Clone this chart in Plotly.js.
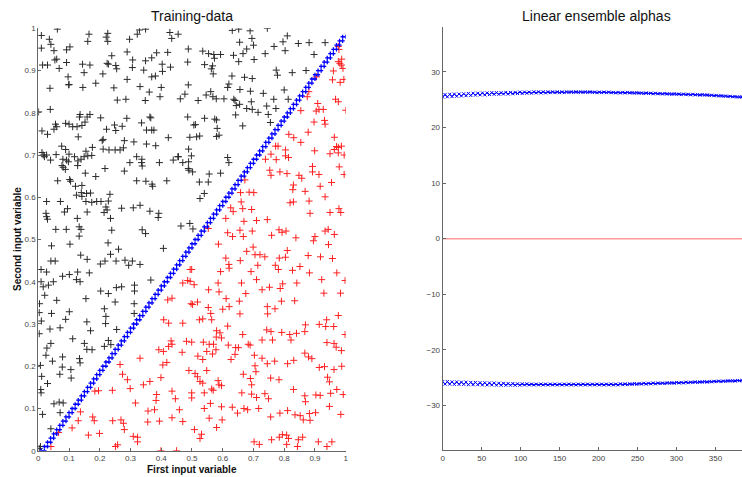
<!DOCTYPE html>
<html>
<head>
<meta charset="utf-8">
<script src="https://cdn.plot.ly/plotly-3.0.1.min.js"></script>
<style>html,body{margin:0;padding:0;background:#fff;}#chart{width:742px;height:477px;}</style>
</head>
<body>
<div id="chart"></div>
<script>
// ---- Training data: class "above" (black) ----
const blackPts = [
[.01,.983],[.062,.998],[.036,.974],[.165,.986],[.226,.988],[.221,.979],[.226,.969],[.161,.969],[.297,.974],[.322,.986],[.349,.998],[.329,.996],[.428,.99],[.455,.986],[.434,.976],[.631,.995],[.652,.998],[.689,.994],[.745,1.0],[.695,.976],[.655,.967],[.70,.96],[.81,.982],[.796,.968],[.767,.957],[.803,.947],[.846,.964],[.881,.966],[.933,.966],
[.01,.953],[.051,.947],[.041,.962],[.092,.949],[.103,.956],[.06,.927],[.054,.925],[.068,.905],[.014,.913],[.03,.913],[.092,.919],[.097,.885],[.1,.867],[.144,.915],[.168,.913],[.149,.895],[.224,.917],[.228,.915],[.239,.935],[.21,.892],[.255,.904],[.252,.912],[.289,.944],[.307,.925],[.306,.907],[.343,.901],[.349,.923],[.369,.93],[.385,.942],[.403,.915],[.404,.898],[.369,.885],[.381,.887],[.421,.943],[.43,.908],[.488,.951],[.486,.92],[.535,.946],[.554,.94],[.571,.938],[.573,.929],[.541,.914],[.563,.904],[.567,.911],[.569,.892],[.593,.938],[.635,.936],[.666,.94],[.678,.951],[.652,.921],[.63,.887],[.671,.884],[.696,.881],[.702,.926],[.738,.94],[.774,.901],[.778,.889],[.826,.895],[.871,.9],[.897,.938],
[.038,.858],[.099,.866],[.145,.86],[.187,.87],[.246,.859],[.257,.83],[.285,.832],[.289,.879],[.331,.862],[.348,.829],[.361,.849],[.4,.86],[.396,.838],[.462,.833],[.477,.844],[.488,.866],[.52,.829],[.546,.842],[.568,.838],[.561,.85],[.579,.833],[.62,.868],[.616,.86],[.636,.832],[.64,.829],[.656,.855],[.69,.851],[.604,.833],[.693,.826],[.732,.846],[.766,.832],[.8,.854],[.813,.832],[.644,.817],[.655,.82],[.642,.795],[.678,.81],[.696,.808],[.715,.801],[.743,.816],[.773,.81],[.748,.796],
[.001,.802],[.039,.808],[.012,.757],[.03,.749],[.051,.761],[.06,.767],[.056,.773],[.089,.775],[.1,.773],[.112,.767],[.126,.767],[.136,.796],[.134,.79],[.142,.77],[.152,.778],[.159,.79],[.168,.796],[.13,.743],[.203,.788],[.222,.761],[.248,.771],[.252,.758],[.273,.768],[.288,.787],[.28,.734],[.211,.737],[.336,.776],[.363,.79],[.366,.788],[.352,.759],[.369,.759],[.376,.759],[.423,.741],[.486,.79],[.506,.771],[.541,.787],[.525,.745],[.493,.742],[.515,.743],[.574,.785],[.58,.783],[.582,.763],[.588,.747],[.511,.772],[.665,.769],[.755,.777],[.076,.721],[.089,.713],[.1,.702],[.012,.706],[.016,.7],[.027,.7],[.02,.696],[.04,.688],[.058,.701],[.155,.709],[.161,.698],[.176,.718],[.174,.699],[.208,.734],[.211,.714],[.23,.712],[.25,.712],[.277,.717],[.266,.712],[.311,.731],[.352,.726],[.32,.696],[.382,.722],[.456,.696],[.489,.714],[.498,.698],[.47,.682],[.58,.744],[.616,.694],[.62,.682],
[.08,.69],[.092,.688],[.077,.675],[.081,.671],[.088,.666],[.098,.684],[.118,.696],[.129,.686],[.128,.675],[.139,.69],[.149,.696],[.153,.657],[.063,.639],[.102,.642],[.105,.638],[.121,.626],[.124,.605],[.142,.628],[.14,.611],[.142,.602],[.157,.609],[.17,.61],[.187,.649],[.217,.668],[.233,.607],[.28,.662],[.298,.682],[.336,.682],[.338,.674],[.337,.69],[.32,.639],[.35,.638],[.372,.626],[.37,.631],[.394,.682],[.418,.639],[.439,.688],[.454,.696],[.489,.684],[.488,.668],[.49,.664],[.502,.66],[.524,.636],[.54,.609],[.553,.636],[.556,.655],[.593,.657],
[.027,.59],[.025,.562],[.027,.554],[.03,.548],[.057,.524],[.072,.59],[.085,.565],[.095,.573],[.091,.524],[.127,.55],[.133,.53],[.139,.524],[.133,.508],[.155,.59],[.159,.565],[.174,.588],[.19,.59],[.204,.59],[.214,.564],[.22,.577],[.224,.57],[.228,.591],[.235,.55],[.239,.522],[.271,.574],[.309,.575],[.331,.581],[.338,.523],[.349,.514],[.363,.567],[.392,.562],[.39,.552],[.464,.532],[.493,.538],[.503,.525],[.526,.597],
[.043,.485],[.041,.449],[.055,.449],[.103,.489],[.138,.463],[.159,.453],[.202,.442],[.227,.492],[.235,.465],[.261,.477],[.253,.449],[.217,.449],[.282,.451],[.306,.449],[.331,.441],[.294,.439],[.407,.479],[.009,.429],[.027,.423],[.009,.4],[.016,.388],[.033,.392],[.049,.4],[.021,.368],[.079,.413],[.101,.417],[.124,.405],[.136,.4],[.128,.423],[.166,.421],[.203,.378],[.228,.372],[.254,.386],[.271,.388],[.313,.392],[.313,.378],[.366,.404],[.004,.348],[.003,.327],[.01,.307],[.003,.277],[.043,.325],[.06,.356],[.038,.288],[.071,.291],[.089,.311],[.101,.329],[.155,.36],[.158,.305],[.17,.284],[.22,.318],[.219,.301],[.215,.336],[.255,.287],[.25,.352],[.312,.348],[.312,.325],[.112,.265],[.15,.254],[.175,.239],[.158,.24],[.215,.247],[.228,.261],[.236,.251],[.028,.243],[.041,.254],[.025,.226],[.046,.212],[.079,.222],[.078,.198],[.106,.192],[.107,.172],[.134,.218],[.136,.208],[.07,.181],[.007,.202],[.011,.176],[.008,.145],[.009,.137],[.03,.159],[.081,.113],[.068,.115],[.051,.111],[.014,.086],[.071,.09],[.041,.052],[.007,.01],[.003,.005]
];
// ---- Training data: class "below" (red) ----
const redPts = [
[.976,.957],[.978,.95],[.976,.921],[.981,.917],[.986,.913],[.991,.905],[.96,.899],[.957,.878],[.982,.872],[.905,.885],[.88,.85],[.875,.838],[.909,.822],[.904,.804],[.913,.808],[.927,.808],[.854,.805],[.967,.832],[.976,.826],[1.0,.806],[.897,.778],[.931,.782],[.933,.773],[.878,.754],[.815,.749],[.831,.741],[.78,.721],[.772,.721],[.757,.702],[.804,.712],[.804,.698],[.814,.694],[.854,.73],[.899,.71],[.963,.742],[.97,.72],[.976,.718],[.963,.713],[.976,.705],[.986,.721],[.995,.7],[.949,.703],[.979,.672],[.995,.654],[.739,.69],[.774,.689],[.753,.664],[.757,.652],[.786,.66],[.809,.656],[.848,.652],[.857,.645],[.83,.629],[.828,.618],[.868,.614],[.892,.673],[.892,.66],[.913,.654],[.917,.626],[.954,.635],[.933,.601],[.672,.641],[.686,.612],[.701,.611],[.658,.611],[.66,.589],[.634,.566],[.83,.589],[.884,.562],[.949,.564],[.984,.564],[.61,.55],[.669,.543],[.696,.52],[.71,.545],[.745,.547],[.783,.523],[.793,.517],[.806,.52],[.933,.52],[.943,.524],[.963,.512],[.553,.526],[.616,.516],[.656,.522],[.759,.51],[.626,.575],[.665,.573],[.694,.571],[.632,.507],[.667,.507],[.838,.504],[.9,.507],[.978,.573],[.881,.591],[.819,.587],[.994,.879],[.987,.927],
[.586,.489],[.699,.482],[.678,.472],[.81,.474],[.895,.497],[.944,.488],[.61,.456],[.657,.45],[.705,.464],[.721,.464],[.737,.459],[.784,.456],[.804,.458],[.878,.462],[.918,.459],[.957,.455],[.499,.429],[.62,.441],[.621,.432],[.692,.424],[.714,.439],[.771,.439],[.781,.429],[.827,.427],[.851,.436],[.882,.421],[.922,.405],[.971,.421],[.998,.403],[.593,.424],[.507,.393],[.585,.397],[.661,.397],[.71,.405],[.752,.387],[.787,.384],[.795,.395],[.841,.397],[.554,.381],[.588,.376],[.675,.372],[.728,.381],[.791,.354],[.834,.355],[.929,.373],[.983,.373],[.611,.36],[.654,.354],[.502,.346],[.518,.352],[.553,.339],[.6,.335],[.621,.341],[.745,.341],[.77,.336],[.746,.324],[.656,.324],[.524,.31],[.535,.312],[.561,.325],[.564,.31],[.616,.295],[.665,.275],[.743,.286],[.757,.282],[.792,.28],[.818,.275],[.84,.278],[.867,.282],[.869,.298],[.914,.299],[.935,.294],[.961,.294],[.938,.31],[.976,.32],[.998,.275],[.58,.284],[.591,.279],[.596,.267],[.579,.269],[.537,.257],[.556,.252],[.57,.252],[.578,.239],[.567,.229],[.548,.235],[.499,.257],[.618,.25],[.642,.244],[.651,.244],[.683,.252],[.689,.25],[.64,.228],[.728,.262],[.762,.262],[.822,.262],[.867,.231],[.939,.256],[.962,.254],[.969,.245],[.986,.237],[.519,.224],[.535,.216],[.627,.216],[.703,.226],[.728,.219],[.745,.206],[.769,.212],[.811,.206],[.831,.214],[.879,.222],[.89,.218],[.914,.197],[.931,.199],[.941,.174],[.962,.192],[.987,.2],[.51,.183],[.518,.175],[.548,.19],[.667,.181],[.705,.201],[.708,.187],[.756,.172],[.783,.168],[.526,.164],[.535,.16],[.585,.166],[.588,.156],[.596,.154],[.69,.171],[.694,.156],[.564,.146],[.569,.143],[.499,.137],[.499,.125],[.54,.137],[.662,.137],[.694,.134],[.71,.126],[.737,.135],[.749,.123],[.83,.145],[.867,.13],[.869,.116],[.903,.132],[.917,.131],[.951,.136],[.971,.145],[.992,.133],[.947,.163],[.54,.1],[.56,.112],[.596,.104],[.631,.103],[.648,.089],[.669,.1],[.681,.097],[.717,.1],[.756,.08],[.786,.089],[.811,.095],[.835,.085],[.852,.083],[.862,.073],[.882,.088],[.884,.072],[.902,.09],[.947,.105],[.984,.086],[.556,.077],[.598,.073],[.58,.055],[.508,.05],[.531,.039],[.526,.029],[.702,.021],[.719,.015],[.759,.026],[.784,.032],[.794,.038],[.808,.037],[.814,.029],[.808,.015],[.843,.01],[.846,.026],[.86,.032],[.911,.021],[.939,.01],[.955,.021],
[.494,.429],[.486,.403],[.494,.401],[.47,.397],[.435,.361],[.421,.357],[.497,.348],[.408,.31],[.424,.302],[.47,.302],[.435,.252],[.424,.247],[.468,.233],[.407,.235],[.392,.239],[.405,.203],[.418,.209],[.331,.219],[.399,.173],[.274,.181],[.29,.168],[.363,.164],[.342,.156],[.299,.147],[.316,.113],[.184,.141],[.196,.142],[.383,.119],[.435,.141],[.446,.123],[.459,.097],[.378,.097],[.357,.094],[.137,.092],[.177,.08],[.182,.071],[.13,.071],[.242,.071],[.269,.073],[.277,.065],[.356,.068],[.394,.07],[.435,.078],[.47,.069],[.11,.054],[.28,.05],[.163,.037],[.199,.041],[.309,.034],[.323,.032],[.323,.021],[.399,.0],[.45,.0],[.251,.01],[.258,.014],[.041,.01],[.066,.043],[.266,.204],[.241,.143],[.385,.133],[.49,.19],[.482,.259],[.432,.26]
];
// ---- Decision boundary (blue) ----
const boundaryX1 = [0.01,0.02,0.03,0.04,0.05,0.06,0.07,0.08,0.09,0.10,0.11,0.12,0.13,0.14,0.15,0.16,0.17,0.18,0.19,0.20,0.21,0.22,0.23,0.24,0.25,0.26,0.27,0.28,0.29,0.30,0.31,0.32,0.33,0.34,0.35,0.36,0.37,0.38,0.39,0.40,0.41,0.42,0.43,0.44,0.45,0.46,0.47,0.48,0.49,0.50,0.51,0.52,0.53,0.54,0.55,0.56,0.57,0.58,0.59,0.60,0.61,0.62,0.63,0.64,0.65,0.66,0.67,0.68,0.69,0.70,0.71,0.72,0.73,0.74,0.75,0.76,0.77,0.78,0.79,0.80,0.81,0.82,0.83,0.84,0.85,0.86,0.87,0.88,0.89,0.90,0.91,0.92,0.93,0.94,0.95,0.96,0.97,0.98,0.99];
const boundaryX2 = [0.02,0.03,0.04,0.05,0.06,0.07,0.08,0.09,0.10,0.11,0.12,0.13,0.14,0.15,0.16,0.17,0.18,0.19,0.20,0.21,0.22,0.23,0.24,0.25,0.26,0.27,0.28,0.29,0.30,0.31,0.32,0.33,0.34,0.35,0.36,0.37,0.38,0.39,0.40,0.41,0.42,0.43,0.44,0.45,0.46,0.47,0.48,0.49,0.50,0.51,0.52,0.53,0.54,0.55,0.56,0.57,0.58,0.59,0.60,0.61,0.62,0.63,0.64,0.65,0.66,0.67,0.68,0.69,0.70,0.71,0.72,0.73,0.74,0.75,0.76,0.77,0.78,0.79,0.80,0.81,0.82,0.83,0.84,0.85,0.86,0.87,0.88,0.89,0.90,0.91,0.92,0.93,0.94,0.95,0.96,0.97,0.98,0.99,1.00];
const boundaryY = [0.00,0.01,0.02,0.03,0.04,0.05,0.06,0.07,0.08,0.09,0.10,0.11,0.12,0.13,0.14,0.15,0.16,0.17,0.18,0.19,0.20,0.21,0.22,0.23,0.24,0.25,0.26,0.27,0.28,0.29,0.30,0.31,0.32,0.33,0.34,0.35,0.36,0.37,0.38,0.39,0.40,0.41,0.42,0.43,0.44,0.45,0.46,0.47,0.48,0.49,0.50,0.51,0.52,0.53,0.54,0.55,0.56,0.57,0.58,0.59,0.60,0.61,0.62,0.63,0.64,0.65,0.66,0.67,0.68,0.69,0.70,0.71,0.72,0.73,0.74,0.75,0.76,0.77,0.78,0.79,0.80,0.81,0.82,0.83,0.84,0.85,0.86,0.87,0.88,0.89,0.90,0.91,0.92,0.93,0.94,0.95,0.96,0.97,0.98];
// ---- Linear ensemble alphas ----
const alphaIdx = [0,3,6,9,12,15,18,21,24,27,30,33,36,39,42,45,48,51,54,57,60,63,66,69,72,75,78,81,84,87,90,93,96,99,102,105,108,111,114,117,120,123,126,129,132,135,138,141,144,147,150,153,156,159,162,165,168,171,174,177,180,183,186,189,192,195,198,201,204,207,210,213,216,219,222,225,228,231,234,237,240,243,246,249,252,255,258,261,264,267,270,273,276,279,282,285,288,291,294,297,300,303,306,309,312,315,318,321,324,327,330,333,336,339,342,345,348,351,354,357,360,363,366,369,372,375,378,381,384];
const alphaPos = [25.45,25.9,25.5,25.95,25.55,26.0,25.6,26.0,25.65,26.05,25.7,26.1,25.75,26.15,25.8,26.15,25.85,26.2,25.85,26.2,25.9,26.25,25.95,26.25,25.95,26.25,26.0,26.3,26.0,26.3,26.05,26.3,26.1,26.35,26.1,26.35,26.15,26.35,26.15,26.4,26.2,26.4,26.2,26.4,26.2,26.4,26.25,26.4,26.25,26.4,26.25,26.4,26.25,26.4,26.3,26.4,26.3,26.4,26.3,26.4,26.3,26.4,26.3,26.4,26.3,26.35,26.25,26.35,26.25,26.35,26.25,26.35,26.25,26.3,26.2,26.3,26.2,26.3,26.2,26.3,26.2,26.25,26.15,26.25,26.15,26.2,26.1,26.2,26.1,26.15,26.05,26.15,26.05,26.1,26.0,26.1,26.0,26.05,25.95,26.05,25.95,26.0,25.9,26.0,25.9,25.95,25.85,25.95,25.85,25.9,25.8,25.9,25.8,25.85,25.75,25.8,25.7,25.75,25.65,25.7,25.6,25.65,25.55,25.6,25.5,25.55,25.45,25.5,25.45];
const alphaNeg = [-25.7,-26.15,-25.7,-26.15,-25.75,-26.2,-25.75,-26.2,-25.8,-26.2,-25.8,-26.25,-25.85,-26.25,-25.85,-26.25,-25.9,-26.3,-25.9,-26.3,-25.95,-26.3,-25.95,-26.35,-26.0,-26.35,-26.0,-26.35,-26.05,-26.35,-26.05,-26.35,-26.1,-26.35,-26.1,-26.3,-26.1,-26.3,-26.15,-26.3,-26.15,-26.3,-26.15,-26.3,-26.15,-26.3,-26.15,-26.3,-26.15,-26.3,-26.15,-26.3,-26.15,-26.3,-26.15,-26.3,-26.15,-26.3,-26.15,-26.3,-26.15,-26.3,-26.15,-26.3,-26.15,-26.3,-26.15,-26.3,-26.15,-26.3,-26.15,-26.3,-26.15,-26.3,-26.15,-26.3,-26.1,-26.25,-26.1,-26.25,-26.1,-26.2,-26.05,-26.2,-26.05,-26.15,-26.0,-26.15,-26.0,-26.1,-25.95,-26.1,-25.95,-26.05,-25.95,-26.05,-25.9,-26.0,-25.9,-26.0,-25.85,-25.95,-25.85,-25.95,-25.8,-25.9,-25.8,-25.85,-25.75,-25.85,-25.75,-25.8,-25.7,-25.8,-25.7,-25.75,-25.65,-25.7,-25.6,-25.7,-25.6,-25.65,-25.55,-25.6,-25.55,-25.6,-25.5,-25.55,-25.5];
const zeroX = [0, 384];
const zeroY = [0, 0];
const unitTicks = [0,0.1,0.2,0.3,0.4,0.5,0.6,0.7,0.8,0.9,1];
const unitTickText = ['0','0.1','0.2','0.3','0.4','0.5','0.6','0.7','0.8','0.9','1'];
const alphaXTicks = [0,50,100,150,200,250,300,350];
const alphaYTicks = [-30,-20,-10,0,10,20,30];

const FONT = 'Liberation Sans, Arial, sans-serif';
const traces = [
  {x: blackPts.map(p=>p[0]), y: blackPts.map(p=>p[1]), type:'scatter', mode:'markers', xaxis:'x', yaxis:'y',
   marker:{symbol:'cross-thin', size:5, line:{width:1, color:'#2a2a2a'}}, hoverinfo:'skip'},
  {x: redPts.map(p=>p[0]), y: redPts.map(p=>p[1]), type:'scatter', mode:'markers', xaxis:'x', yaxis:'y',
   marker:{symbol:'cross-thin', size:5, line:{width:1, color:'#ff2020'}}, hoverinfo:'skip'},
  {x: boundaryX1, y: boundaryY, type:'scatter', mode:'markers', xaxis:'x', yaxis:'y',
   marker:{symbol:'cross-thin', size:3, line:{width:1.3, color:'#0000ff'}}, hoverinfo:'skip'},
  {x: boundaryX2, y: boundaryY, type:'scatter', mode:'markers', xaxis:'x', yaxis:'y',
   marker:{symbol:'cross-thin', size:3, line:{width:1.3, color:'#0000ff'}}, hoverinfo:'skip'},
  {x: zeroX, y: zeroY, type:'scatter', mode:'lines', xaxis:'x2', yaxis:'y2',
   line:{color:'#ff9a9a', width:1.5}, hoverinfo:'skip'},
  {x: alphaIdx, y: alphaPos, type:'scatter', mode:'lines+markers', xaxis:'x2', yaxis:'y2',
   line:{color:'#0000ff', width:1}, marker:{symbol:'x-thin', size:3, line:{width:1, color:'#0000ff'}}, hoverinfo:'skip'},
  {x: alphaIdx, y: alphaNeg, type:'scatter', mode:'lines+markers', xaxis:'x2', yaxis:'y2',
   line:{color:'#0000ff', width:1}, marker:{symbol:'x-thin', size:3, line:{width:1, color:'#0000ff'}}, hoverinfo:'skip'}
];

const axCommon = {
  showgrid:false, zeroline:false, showline:true, linecolor:'#666', linewidth:1,
  ticks:'inside', ticklen:3, tickcolor:'#666', tickfont:{family:FONT, size:8, color:'#444'}
};
const layout = {
  width:742, height:477, margin:{l:0, r:0, t:0, b:0},
  paper_bgcolor:'#fff', plot_bgcolor:'#fff', showlegend:false,
  xaxis: Object.assign({}, axCommon, {domain:[0.0516,0.4659], range:[0,1], tickvals:unitTicks, ticktext:unitTickText, anchor:'y'}),
  yaxis: Object.assign({}, axCommon, {domain:[0.0551,0.9407], range:[0,1], tickvals:unitTicks, ticktext:unitTickText, anchor:'x'}),
  xaxis2: Object.assign({}, axCommon, {domain:[0.5966,1], range:[0,384], tickvals:alphaXTicks, anchor:'y2'}),
  yaxis2: Object.assign({}, axCommon, {domain:[0.0566,0.9428], range:[-38,38], tickvals:alphaYTicks, anchor:'x2'}),
  annotations: [
    {text:'Training-data', xref:'paper', yref:'paper', x:192/742, y:1-16/477, xanchor:'center', yanchor:'middle', showarrow:false, font:{family:FONT, size:14, color:'#111'}},
    {text:'Linear ensemble alphas', xref:'paper', yref:'paper', x:596/742, y:1-16/477, xanchor:'center', yanchor:'middle', showarrow:false, font:{family:FONT, size:14, color:'#111'}},
    {text:'<b>First input variable</b>', xref:'paper', yref:'paper', x:192/742, y:1-469/477, xanchor:'center', yanchor:'middle', showarrow:false, font:{family:FONT, size:10, color:'#111'}},
    {text:'<b>Second input variable</b>', xref:'paper', yref:'paper', x:18/742, y:1-239/477, xanchor:'center', yanchor:'middle', textangle:-90, showarrow:false, font:{family:FONT, size:10, color:'#111'}}
  ]
};
Plotly.newPlot('chart', traces, layout, {staticPlot:true, displayModeBar:false});
</script>
</body>
</html>
